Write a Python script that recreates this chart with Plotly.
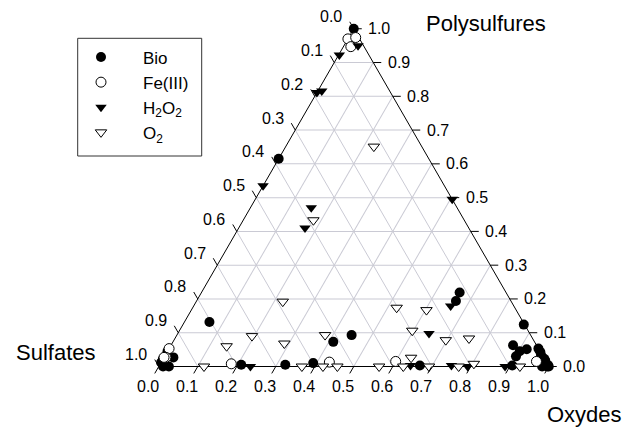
import plotly.graph_objects as go

# ---------------- data (fractions) ----------------
# Polysulfures = top vertex, Sulfates = bottom-left vertex, Oxydes = bottom-right vertex
bio_poly = [1.000, 0.615, 0.132, 0.073, 0.093, 0.219, 0.194, 0.124, 0.063, 0.045, 0.051, 0.030,
            0.053, 0.043, 0.033, 0.023, 0.018, 0.008, 0.000, 0.004, 0.000, 0.000,
            0.045, 0.021, 0.012, 0.000, 0.027, 0.000, 0.006,
            0.005, 0.005, 0.010, 0.003, 0.003]
bio_sulf = [0.000, 0.385, 0.804, 0.516, 0.459, 0.119, 0.141, 0.002, 0.060, 0.052, 0.031, 0.069,
            0.000, 0.000, 0.003, 0.000, 0.000, 0.011, 0.000, 0.000, 0.017, 0.004,
            0.955, 0.979, 0.988, 0.989, 0.949, 0.974, 0.981,
            0.786, 0.673, 0.599, 0.329, 0.092]
bio_oxy = [0.000, 0.000, 0.064, 0.411, 0.448, 0.662, 0.665, 0.874, 0.877, 0.903, 0.918, 0.901,
           0.947, 0.957, 0.964, 0.977, 0.982, 0.981, 1.000, 0.996, 0.983, 0.996,
           0.000, 0.000, 0.000, 0.011, 0.024, 0.026, 0.013,
           0.209, 0.322, 0.391, 0.668, 0.905]

fe_poly = [0.970, 0.974, 0.947, 0.053, 0.027, 0.027, 0.008, 0.013, 0.015, 0.015]
fe_sulf = [0.030, 0.008, 0.034, 0.947, 0.968, 0.973, 0.810, 0.556, 0.385, 0.024]
fe_oxy = [0.000, 0.018, 0.019, 0.000, 0.005, 0.000, 0.182, 0.431, 0.600, 0.961]

h2o2_poly = [0.950, 0.922, 0.811, 0.816, 0.535, 0.495, 0.470, 0.410, 0.179, 0.098,
             0.000, 0.003, 0.003, 0.000, 0.000]
h2o2_sulf = [0.014, 0.076, 0.189, 0.174, 0.465, 0.000, 0.374, 0.420, 0.162, 0.258,
             0.765, 0.353, 0.248, 0.208, 0.112]
h2o2_oxy = [0.036, 0.002, 0.000, 0.010, 0.000, 0.505, 0.156, 0.170, 0.659, 0.644,
            0.235, 0.644, 0.749, 0.792, 0.888]

o2_poly = [0.651, 0.433, 0.192, 0.060, 0.090, 0.068, 0.093, 0.174, 0.167, 0.106, 0.078, 0.083, 0.026,
           0.000, 0.000, 0.000, 0.000, 0.000, 0.000, 0.000, 0.000, 0.008, 0.000]
o2_sulf = [0.123, 0.387, 0.586, 0.796, 0.716, 0.644, 0.527, 0.303, 0.230, 0.297, 0.225, 0.163, 0.340,
           0.884, 0.633, 0.579, 0.542, 0.435, 0.373, 0.307, 0.231, 0.188, 0.074]
o2_oxy = [0.226, 0.180, 0.222, 0.144, 0.194, 0.288, 0.380, 0.523, 0.603, 0.597, 0.697, 0.754, 0.634,
          0.116, 0.367, 0.421, 0.458, 0.565, 0.627, 0.693, 0.769, 0.804, 0.926]

tick_values = [0.0, 0.1, 0.2, 0.3, 0.4, 0.5, 0.6, 0.7, 0.8, 0.9, 1.0]
tick_labels = ["0.0", "0.1", "0.2", "0.3", "0.4", "0.5", "0.6", "0.7", "0.8", "0.9", "1.0"]

series_names = ["Bio", "Fe(III)", "H<sub>2</sub>O<sub>2</sub>", "O<sub>2</sub>"]
title_top = "Polysulfures"
title_left = "Sulfates"
title_right = "Oxydes"

# ---------------- layout geometry ----------------
FIG_W, FIG_H = 631, 427
FONT = "Arial, Liberation Sans, sans-serif"
SIDE = 390.0
HEIGHT = SIDE * 3 ** 0.5 / 2
BASE_Y = 366.5
CENTER_X = 353.75
TICK_LEN = 8.0

dom_x = [(CENTER_X - SIDE / 2) / FIG_W, (CENTER_X + SIDE / 2) / FIG_W]
dom_y = [(FIG_H - BASE_Y) / FIG_H, (FIG_H - BASE_Y + HEIGHT) / FIG_H]


def ter_to_px(a, b, c):
    """pixel position (from top-left) of a ternary point inside the subplot triangle"""
    x = CENTER_X - SIDE / 2 + c * SIDE + a * SIDE / 2
    y = BASE_Y - a * HEIGHT
    return x, y


def px_to_paper(x, y):
    return x / FIG_W, 1 - y / FIG_H


shapes = []
annotations = []
C60, S60 = 0.5, 3 ** 0.5 / 2
edges = [
    # (edge point function, tick direction (screen px, y down), label offset (px))
    (lambda v: ter_to_px(1 - v, v, 0), (-C60, -S60), (-22.5, -12.0)),   # left: Sulfates
    (lambda v: ter_to_px(0, 1 - v, v), (-C60, S60), (-11.0, 20.0)),     # bottom: Oxydes
    (lambda v: ter_to_px(v, 0, 1 - v), (1.0, 0.0), (25.5, 0.0)),        # right: Polysulfures
]
for edge_pt, (ux, uy), (ox, oy) in edges:
    for v, lab in zip(tick_values, tick_labels):
        ex, ey = edge_pt(v)
        x0, y0 = px_to_paper(ex, ey)
        x1, y1 = px_to_paper(ex + ux * TICK_LEN, ey + uy * TICK_LEN)
        shapes.append(dict(type="line", xref="paper", yref="paper", x0=x0, y0=y0, x1=x1, y1=y1,
                           line=dict(color="black", width=1)))
        lx, ly = px_to_paper(ex + ox, ey + oy)
        annotations.append(dict(text=lab, x=lx, y=ly, xref="paper", yref="paper",
                                xanchor="center", yanchor="middle", showarrow=False,
                                font=dict(size=16, family=FONT, color="black")))

# legend frame
shapes.append(dict(type="rect", xref="paper", yref="paper",
                   x0=77.7 / FIG_W, x1=201.7 / FIG_W, y0=1 - 156 / FIG_H, y1=1 - 38.3 / FIG_H,
                   line=dict(color="#333333", width=1), fillcolor="rgba(0,0,0,0)"))

for text, (tx, ty) in [(title_top, (486, 24)), (title_left, (55.5, 352)), (title_right, (584, 414))]:
    px, py = px_to_paper(tx, ty)
    annotations.append(dict(text=text, x=px, y=py, xref="paper", yref="paper",
                            xanchor="center", yanchor="middle", showarrow=False,
                            font=dict(size=22, family=FONT, color="black")))

fig = go.Figure()

marker_styles = [
    dict(symbol="circle", size=10, color="black", line=dict(width=0)),
    dict(symbol="circle", size=10, color="white", line=dict(width=1, color="black")),
    dict(symbol="triangle-down", size=10, color="black", line=dict(width=0)),
    dict(symbol="triangle-down", size=10, color="white", line=dict(width=1, color="black")),
]
series = [(bio_poly, bio_sulf, bio_oxy), (fe_poly, fe_sulf, fe_oxy),
          (h2o2_poly, h2o2_sulf, h2o2_oxy), (o2_poly, o2_sulf, o2_oxy)]
for (a, b, c), name, mk in zip(series, series_names, marker_styles):
    fig.add_trace(go.Scatterternary(a=a, b=b, c=c, mode="markers", name=name, marker=mk, cliponaxis=False))

axis_common = dict(
    tickmode="linear", tick0=0, dtick=0.1, showgrid=True, gridcolor="#cacad4", gridwidth=1,
    linecolor="black", linewidth=1, showline=True, ticks="", showticklabels=False,
    layer="below traces", title=dict(text=""), min=0,
)

fig.update_layout(
    width=FIG_W, height=FIG_H,
    margin=dict(l=0, r=0, t=0, b=0),
    paper_bgcolor="white", plot_bgcolor="white",
    font=dict(family=FONT, color="black"),
    ternary=dict(
        sum=1,
        domain=dict(x=dom_x, y=dom_y),
        bgcolor="white",
        aaxis=axis_common, baxis=axis_common, caxis=axis_common,
    ),
    showlegend=True,
    legend=dict(x=59 / FIG_W, y=1 - 39.5 / FIG_H, xanchor="left", yanchor="top",
                bgcolor="rgba(0,0,0,0)", borderwidth=0, itemwidth=74,
                font=dict(family=FONT, size=17, color="black"), tracegroupgap=0),
    shapes=shapes,
    annotations=annotations,
)

fig.write_html("out.html", config={"displayModeBar": False},
               post_script="document.body.style.margin='0px';")
